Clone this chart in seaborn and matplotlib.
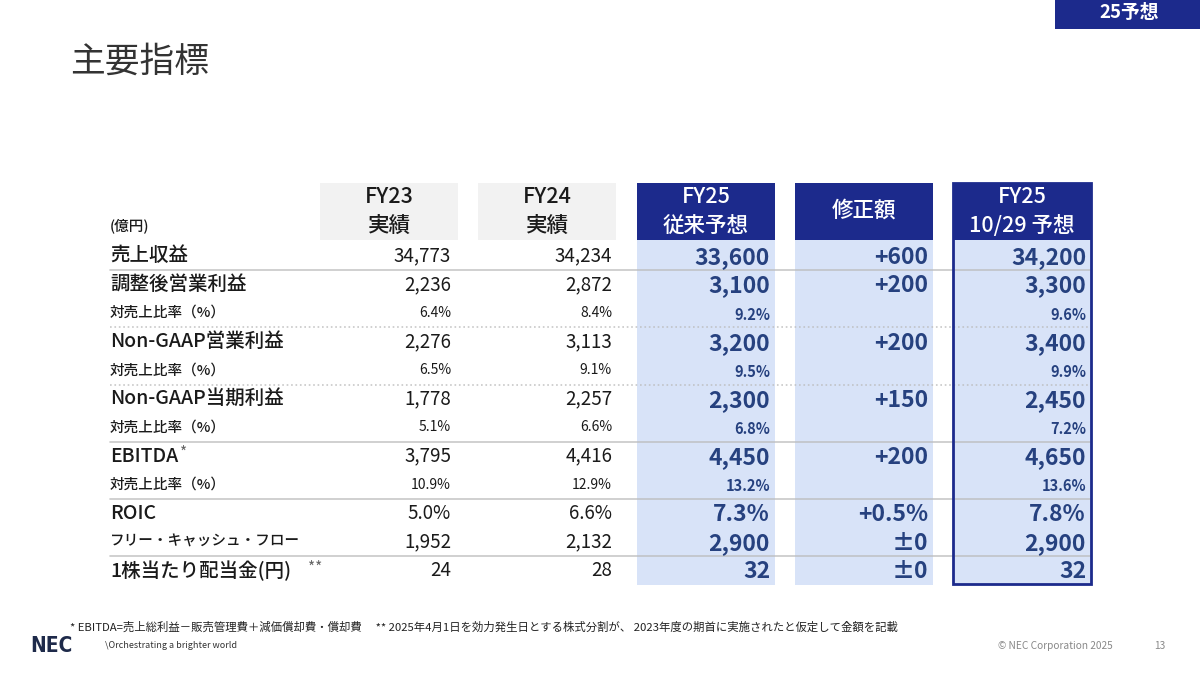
import matplotlib
matplotlib.use("Agg")
import matplotlib.pyplot as plt
from matplotlib.patches import Rectangle
import seaborn as sns

# ---- data ----
row_labels = ['売上収益', '調整後営業利益', '対売上比率（%）', 'Non-GAAP営業利益', '対売上比率（%）',
              'Non-GAAP当期利益', '対売上比率（%）', 'EBITDA', '対売上比率（%）', 'ROIC',
              'フリー・キャッシュ・フロー', '1株当たり配当金(円)']
label_marks = ['', '', '', '', '', '', '', '*', '', '', '', '**']
is_sub = [False, False, True, False, True, False, True, False, True, False, False, False]
is_pct = [False, False, True, False, True, False, True, False, True, True, False, False]

col_headers = [('FY23', '実績'), ('FY24', '実績'), ('FY25', '従来予想'), ('修正額', ''), ('FY25', '10/29 予想')]
fy23 = [34773, 2236, 6.4, 2276, 6.5, 1778, 5.1, 3795, 10.9, 5.0, 1952, 24]
fy24 = [34234, 2872, 8.4, 3113, 9.1, 2257, 6.6, 4416, 12.9, 6.6, 2132, 28]
fy25_prev = [33600, 3100, 9.2, 3200, 9.5, 2300, 6.8, 4450, 13.2, 7.3, 2900, 32]
revision = [600, 200, None, 200, None, 150, None, 200, None, 0.5, 0, 0]
fy25_new = [34200, 3300, 9.6, 3400, 9.9, 2450, 7.2, 4650, 13.6, 7.8, 2900, 32]

# separators after these rows: (row index, style)
separators = [(0, '-'), (2, ':'), (4, ':'), (6, '-'), (8, '-'), (10, '-')]

# ---- style ----
sns.set_theme(style='white')
plt.rcParams['font.family'] = ['Noto Sans CJK JP', 'DejaVu Sans']

NAVY = '#1c2a8c'
LIGHT = '#d8e3f8'
GREY_BOX = '#f2f2f2'
BLUE_TXT = '#26417f'
TXT = '#1a1a1a'


def fmt(v, pct, signed=False):
    if v is None:
        return ''
    if signed and v == 0:
        return '±0'
    s = f'{v:.1f}%' if pct else f'{v:,}'
    if signed and v > 0:
        s = '+' + s
    return s


fig = plt.figure(figsize=(12, 6.74), dpi=100)
ax = fig.add_axes([0, 0, 1, 1])
ax.set_xlim(0, 1200)
ax.set_ylim(674, 0)
ax.axis('off')

# layout
col_left = [320, 478, 637, 795, 953]
col_w = 138
num_right = [451, 612, 770, 928, 1086]
head_top, head_bot = 183, 240
body_top, row_h = 241.5, 28.6
n_rows = len(row_labels)
body_bot = body_top + n_rows * row_h
label_x = 110

# title + tag
ax.text(70, 62, '主要指標', fontsize=25, color='#333333', va='center', ha='left')
ax.add_patch(Rectangle((1055, 0), 145, 29, color=NAVY, lw=0))
ax.text(1129, 13, '25予想', fontsize=13.5, color='white', fontweight='bold', ha='center', va='center')

# header boxes
for j, (h1, h2) in enumerate(col_headers):
    cx = col_left[j] + col_w / 2
    if j < 2:
        ax.add_patch(Rectangle((col_left[j], head_top), col_w, head_bot - head_top, color=GREY_BOX, lw=0))
        c = TXT
    else:
        ax.add_patch(Rectangle((col_left[j], head_top), col_w, head_bot - head_top, color=NAVY, lw=0))
        ax.add_patch(Rectangle((col_left[j], head_bot), col_w, body_bot - head_bot, color=LIGHT, lw=0, zorder=0))
        c = 'white'
    if h2:
        ax.text(cx, 197, h1, fontsize=15.5, color=c, ha='center', va='center', fontweight='medium')
        ax.text(cx, 226, h2, fontsize=15.5, color=c, ha='center', va='center', fontweight='medium')
    else:
        ax.text(cx, 211, h1, fontsize=15.5, color=c, ha='center', va='center', fontweight='medium')

ax.add_patch(Rectangle((col_left[4], head_top), col_w, body_bot - head_top - 1, fill=False,
                       edgecolor=NAVY, lw=2, zorder=5))
ax.text(label_x, 226, '(億円)', fontsize=10.5, color=TXT, ha='left', va='center', fontweight='medium')

# separators
for r, ls in separators:
    y = body_top + (r + 1) * row_h
    ax.plot([label_x, 1090], [y, y], color='#bbbbbb', lw=1.2, ls=ls, alpha=0.8, zorder=1)

# rows
columns = [fy23, fy24, fy25_prev, revision, fy25_new]
for i in range(n_rows):
    y = body_top + (i + 0.5) * row_h
    small_label = is_sub[i] or row_labels[i].startswith('フリー')
    t = ax.text(label_x, y, row_labels[i], fontsize=10.5 if small_label else 14,
                color=TXT, ha='left', va='center', fontweight='medium')
    if label_marks[i]:
        gap = 1 if label_marks[i] == '*' else 12
        ax.annotate(label_marks[i], xy=(1, 0.62), xycoords=t, xytext=(gap, 0), textcoords='offset points',
                    fontsize=11, color='#666666', ha='left', va='center')
    for j, col in enumerate(columns):
        s = fmt(col[i], is_pct[i], signed=(j == 3))
        if j < 2:
            ax.text(num_right[j], y, s, fontsize=10 if is_sub[i] else 13.5, color=TXT,
                    ha='right', va='center')
        else:
            ax.text(num_right[j], y + 1.5, s, fontsize=10.5 if is_sub[i] else 16.5, color=BLUE_TXT,
                    ha='right', va='center', fontweight='bold', zorder=6)

# footer
ax.text(70, 627, '* EBITDA=売上総利益－販売管理費＋減価償却費・償却費　 ** 2025年4月1日を効力発生日とする株式分割が、 2023年度の期首に実施されたと仮定して金額を記載',
        fontsize=8.2, color='#222222', ha='left', va='center')
ax.text(30, 646, 'NEC', fontsize=15, fontweight='bold', fontstretch='condensed', color='#1e2a4a',
        ha='left', va='center', family=['DejaVu Sans'])
ax.text(105, 646, '\\Orchestrating a brighter world', fontsize=6.5, color='#333333', ha='left', va='center')
ax.text(998, 646, '© NEC Corporation 2025', fontsize=7.3, color='#888888', ha='left', va='center')
ax.text(1160, 646, '13', fontsize=7.3, color='#888888', ha='center', va='center')

fig.savefig('out.png', dpi=100)
